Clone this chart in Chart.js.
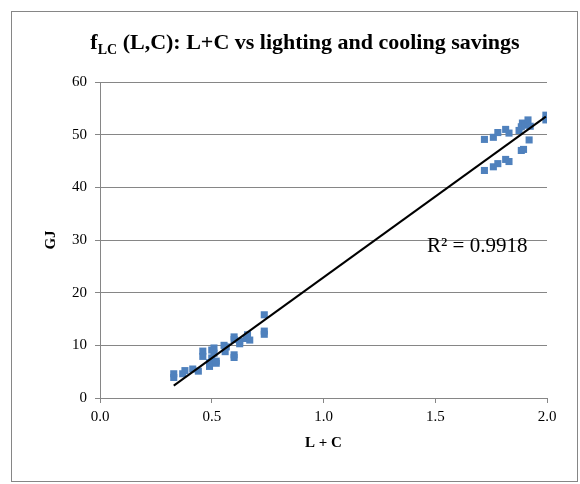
<!DOCTYPE html>
<html>
<head>
<meta charset="utf-8">
<script src="https://cdn.jsdelivr.net/npm/chart.js@4/dist/chart.umd.min.js"></script>
<style>
  html, body { margin: 0; padding: 0; background: #fff; }
  #wrap { width: 580px; height: 484px; }
</style>
</head>
<body>
<div id="wrap"><canvas id="c" width="580" height="484"></canvas></div>
<script>
// ---- data ----
const lcValues = [
  0.33, 0.33, 0.37, 0.38, 0.415, 0.44, 0.46, 0.46, 0.49, 0.49,
  0.50, 0.50, 0.51, 0.51, 0.52, 0.52, 0.555, 0.565, 0.56, 0.60,
  0.60, 0.60, 0.60, 0.625, 0.625, 0.655, 0.66, 0.67, 0.735, 0.735, 0.735,
  1.72, 1.72, 1.76, 1.76, 1.78, 1.78, 1.815, 1.815, 1.83, 1.83,
  1.875, 1.885, 1.885, 1.89, 1.895, 1.90, 1.915, 1.92, 1.925, 1.995, 1.995
];
const gjValues = [
  3.9, 4.6, 4.6, 5.2, 5.5, 5.1, 7.9, 8.9, 6.0, 6.7,
  9.1, 7.6, 9.5, 8.5, 7.0, 6.6, 10.0, 9.7, 8.8, 11.1,
  11.6, 8.2, 7.7, 10.8, 10.3, 11.3, 12.0, 11.0, 15.8, 12.7, 12.1,
  49.1, 43.2, 49.5, 43.9, 50.4, 44.5, 51.0, 45.3, 50.3, 44.9,
  50.8, 51.5, 47.0, 52.2, 47.2, 51.8, 52.8, 49.0, 51.6, 53.7, 52.8
];
const xTicks = [0.0, 0.5, 1.0, 1.5, 2.0];
const yTicks = [0, 10, 20, 30, 40, 50, 60];
const titleMain = "f";
const titleSub = "LC";
const titleRest = " (L,C): L+C vs lighting and cooling savings";
const xTitle = "L + C";
const yTitle = "GJ";
const r2Label = "R\u00B2 = 0.9918";

// linear trendline (least squares) from the points
const n = lcValues.length;
let sx = 0, sy = 0, sxx = 0, sxy = 0;
for (let i = 0; i < n; i++) { sx += lcValues[i]; sy += gjValues[i]; sxx += lcValues[i]*lcValues[i]; sxy += lcValues[i]*gjValues[i]; }
const slope = (n*sxy - sx*sy) / (n*sxx - sx*sx);
const intercept = (sy - slope*sx) / n;
const xMin = Math.min(...lcValues), xMax = Math.max(...lcValues);
const trend = [{x: xMin, y: slope*xMin + intercept}, {x: xMax, y: slope*xMax + intercept}];

const points = lcValues.map((x, i) => ({x, y: gjValues[i]}));

const GRAY = '#868686';
const SERIF = '"Liberation Serif", "Times New Roman", serif';

const decor = {
  id: 'decor',
  afterDraw(chart) {
    const ctx = chart.ctx;
    ctx.save();
    // outer border
    ctx.strokeStyle = GRAY;
    ctx.lineWidth = 1;
    ctx.strokeRect(11.5, 11.5, 566, 470);
    // title with subscript
    ctx.fillStyle = '#000';
    ctx.textBaseline = 'alphabetic';
    ctx.textAlign = 'left';
    const big = 'bold 22px ' + SERIF, small = 'bold 14px ' + SERIF;
    ctx.font = big; const w1 = ctx.measureText(titleMain).width; const w3 = ctx.measureText(titleRest).width;
    ctx.font = small; const w2 = ctx.measureText(titleSub).width;
    let x = 305 - (w1 + w2 + w3) / 2;
    const base = 48.5;
    ctx.font = big; ctx.fillText(titleMain, x, base); x += w1;
    ctx.font = small; ctx.fillText(titleSub, x, base + 5); x += w2;
    ctx.font = big; ctx.fillText(titleRest, x, base);
    // R² label
    ctx.font = '21px ' + SERIF;
    ctx.fillText(r2Label, 427, 252);
    ctx.restore();
  }
};

new Chart(document.getElementById('c'), {
  data: {
    datasets: [
      {
        type: 'line',
        data: trend,
        borderColor: '#000',
        borderWidth: 2,
        pointRadius: 0,
        fill: false,
        order: 0
      },
      {
        type: 'scatter',
        data: points,
        backgroundColor: '#4F81BD',
        borderColor: '#4F81BD',
        borderWidth: 0,
        pointStyle: 'rect',
        pointRadius: 5,
        pointHoverRadius: 5,
        order: 1
      }
    ]
  },
  options: {
    responsive: false,
    animation: false,
    events: [],
    layout: { padding: { left: 0, top: 82, right: 33, bottom: 0 } },
    plugins: { legend: { display: false }, tooltip: { enabled: false }, title: { display: false } },
    scales: {
      x: {
        type: 'linear',
        min: 0, max: 2,
        afterBuildTicks: (s) => { s.ticks = xTicks.map(v => ({value: v})); },
        afterFit: (s) => { s.height = 86; },
        ticks: {
          callback: (v) => Number(v).toFixed(1),
          color: '#000',
          font: { family: SERIF, size: 15 },
          padding: 5,
          maxRotation: 0
        },
        grid: { drawOnChartArea: false, drawTicks: true, tickLength: 5, color: GRAY },
        border: { color: GRAY, width: 1 },
        title: { display: true, text: xTitle, color: '#000', font: { family: SERIF, size: 15, weight: 'bold' }, padding: { top: 0, bottom: 32 } }
      },
      y: {
        type: 'linear',
        min: 0, max: 60,
        afterBuildTicks: (s) => { s.ticks = yTicks.map(v => ({value: v})); },
        afterFit: (s) => { s.width = 100; },
        ticks: {
          color: '#000',
          font: { family: SERIF, size: 15 },
          padding: 8
        },
        grid: { drawOnChartArea: true, drawTicks: true, tickLength: 5, color: GRAY },
        border: { color: GRAY, width: 1 },
        title: { display: true, text: yTitle, color: '#000', font: { family: SERIF, size: 15, weight: 'bold' }, padding: { top: 42, bottom: 0 } }
      }
    }
  },
  plugins: [decor]
});
</script>
</body>
</html>
